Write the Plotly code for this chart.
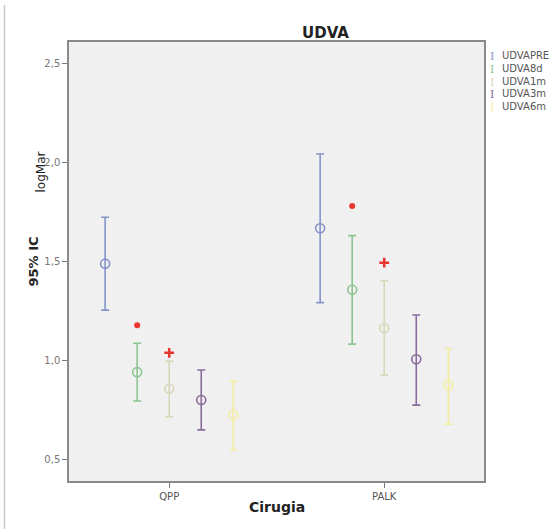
import plotly.graph_objects as go

# Surgical groups and follow-up series
categories = ["QPP", "PALK"]
series = ["UDVAPRE", "UDVA8d", "UDVA1m", "UDVA3m", "UDVA6m"]

# Mean logMAR and 95% CI bounds per series, one value per group
means = {
    "UDVAPRE": [1.489, 1.668],
    "UDVA8d": [0.940, 1.357],
    "UDVA1m": [0.856, 1.162],
    "UDVA3m": [0.799, 1.005],
    "UDVA6m": [0.723, 0.875],
}
upper = {
    "UDVAPRE": [1.724, 2.044],
    "UDVA8d": [1.086, 1.631],
    "UDVA1m": [0.996, 1.403],
    "UDVA3m": [0.951, 1.229],
    "UDVA6m": [0.895, 1.060],
}
lower = {
    "UDVAPRE": [1.254, 1.292],
    "UDVA8d": [0.794, 1.082],
    "UDVA1m": [0.714, 0.925],
    "UDVA3m": [0.648, 0.773],
    "UDVA6m": [0.546, 0.677],
}

# Significance markers above the CI
sig_dot = [1.177, 1.781]    # UDVA8d
sig_cross = [1.038, 1.494]  # UDVA1m

colors = {
    "UDVAPRE": "#8494c8",
    "UDVA8d": "#8cc58f",
    "UDVA1m": "#d9d7b9",
    "UDVA3m": "#8b6b9b",
    "UDVA6m": "#f3ee9e",
}

W, H = 551, 529
pl, pr, pt, pb = 69, 67, 42, 48
pw, ph = W - pl - pr, H - pt - pb


def px(xp):
    return (xp - pl) / pw


def py(yp):
    return (H - pb - yp) / ph


offset_step = 0.149
fig = go.Figure()

for i, s in enumerate(series):
    off = (i - 2) * offset_step
    xs = [j + off for j in range(len(categories))]
    m = means[s]
    fig.add_trace(go.Scatter(
        x=xs, y=m, mode="markers", name=s, showlegend=False,
        marker=dict(symbol="circle-open", size=9, color=colors[s],
                    line=dict(width=1.6, color=colors[s])),
        error_y=dict(type="data", symmetric=False,
                     array=[u - v for u, v in zip(upper[s], m)],
                     arrayminus=[v - l for v, l in zip(m, lower[s])],
                     color=colors[s], thickness=1.6, width=4),
    ))

fig.add_trace(go.Scatter(
    x=[j - offset_step for j in range(len(categories))], y=sig_dot,
    mode="markers", showlegend=False,
    marker=dict(symbol="circle", size=6, color="#e8352d"),
))
fig.add_trace(go.Scatter(
    x=[j for j in range(len(categories))], y=sig_cross,
    mode="markers", showlegend=False,
    marker=dict(symbol="cross-thin-open", size=7, color="#e8352d",
                line=dict(width=2.5, color="#e8352d")),
))

fig.update_layout(
    width=W, height=H,
    margin=dict(l=pl, r=pr, t=pt, b=pb, autoexpand=False),
    paper_bgcolor="white",
    plot_bgcolor="#f0f0f0",
    separators=",.",
    font=dict(family="DejaVu Sans", color="#555555", size=10),
    showlegend=False,
)

fig.add_annotation(text="<b>UDVA</b>", x=px(325), y=py(22), xref="paper", yref="paper",
                   showarrow=False, font=dict(size=15, color="#222222"))
fig.add_annotation(text="<b>95% IC</b>", x=px(23), y=py(262), xref="paper", yref="paper",
                   showarrow=False, textangle=-90, font=dict(size=13, color="#222222"))
fig.add_annotation(text="logMar", x=px(31), y=py(150), xref="paper", yref="paper",
                   showarrow=False, textangle=-90, font=dict(size=12, color="#222222"))
fig.add_annotation(text="<b>Cirugia</b>", x=px(277), y=py(517), xref="paper", yref="paper",
                   showarrow=False, font=dict(size=14, color="#222222"))

# Legend: error-bar glyph plus series name
for i, s in enumerate(series):
    yy = 48 + i * 12.8
    fig.add_annotation(text="I", x=px(492), y=py(yy), xref="paper", yref="paper",
                       showarrow=False, xanchor="center",
                       font=dict(family="DejaVu Serif", size=11, color=colors[s]))
    fig.add_annotation(text=s, x=px(500), y=py(yy), xref="paper", yref="paper",
                       showarrow=False, xanchor="left",
                       font=dict(size=10, color="#555555"))

fig.add_shape(type="line", xref="paper", yref="paper",
              x0=px(4.5), x1=px(4.5), y0=py(5), y1=py(529),
              line=dict(color="#c8c8c8", width=1.5))

fig.update_xaxes(
    range=[-0.466, 1.464], tickvals=list(range(len(categories))), ticktext=categories,
    showgrid=False, zeroline=False, showline=True, mirror=True,
    linecolor="#8a8a8a", linewidth=1.5, ticks="outside", ticklen=5,
    tickcolor="#777777", tickfont=dict(size=10, color="#555555"),
)
fig.update_yaxes(
    range=[0.389, 2.611], tickvals=[0.5, 1.0, 1.5, 2.0, 2.5], tickformat=".1f",
    showgrid=False, zeroline=False, showline=True, mirror=True,
    linecolor="#8a8a8a", linewidth=1.5, ticks="outside", ticklen=5,
    tickcolor="#777777", tickfont=dict(size=10, color="#777777"),
)

fig.write_html("out.html")
